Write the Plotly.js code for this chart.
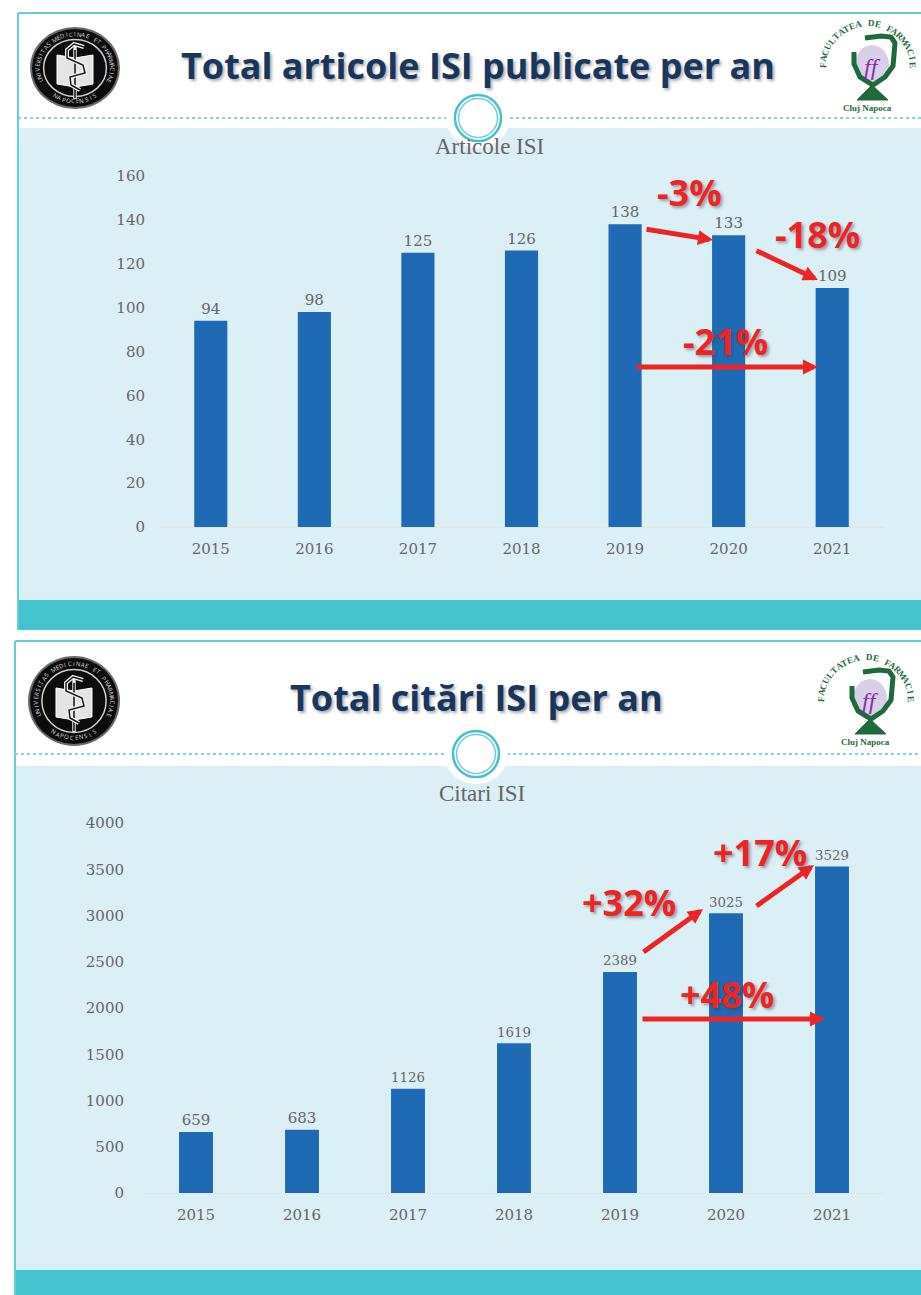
<!DOCTYPE html>
<html>
<head>
<meta charset="utf-8">
<script src="https://cdn.plot.ly/plotly-3.0.1.min.js"></script>
<style>html,body{margin:0;padding:0;background:#fff;overflow:hidden}#c{width:921px;height:1295px}</style>
</head>
<body>
<div id="c"></div>
<script>
const years = ['2015','2016','2017','2018','2019','2020','2021'];
const articole = [94,98,125,126,138,133,109];
const citari = [659,683,1126,1619,2389,3025,3529];
const ticksArticole = [0,20,40,60,80,100,120,140,160];
const ticksCitari = [0,500,1000,1500,2000,2500,3000,3500,4000];
const titleTop = 'Total articole ISI publicate per an';
const titleBottom = 'Total citări ISI per an';
const seriesTop = 'Articole ISI';
const seriesBottom = 'Citari ISI';
const sealText = 'UNIVERSITAS MEDICINAE ET PHARMACIAE';
const sealLower = 'NAPOCENSIS';
const facultyText = 'FACULTATEA DE FARMACIE';
const W = 921, H = 1295;
const fx = x => x / W, fy = y => 1 - y / H;
const TEAL = '#45c3cf', BLUE = '#dbeff7', BAR = '#1f6ab5', RED = '#ee2424', NAVY = '#17375e', GREY = '#666666', GREEN = '#1d6b3a';
const SERIF = '"DejaVu Serif", serif', LIB = '"Liberation Serif", serif', SANS = '"Open Sans", sans-serif';
const shapes = [], annotations = [];

function rect(x0, y0, x1, y1, fill) {
  shapes.push({type:'rect', xref:'paper', yref:'paper', x0:fx(x0), x1:fx(x1), y0:fy(y0), y1:fy(y1), fillcolor:fill, line:{width:0}, layer:'below'});
}
function circle(cx, cy, rx, ry, fill, lineColor, lineWidth) {
  shapes.push({type:'circle', xref:'paper', yref:'paper', x0:fx(cx-rx), x1:fx(cx+rx), y0:fy(cy-ry), y1:fy(cy+ry), fillcolor:fill,
    line:{color:lineColor||fill, width:lineWidth||0}, layer:'below'});
}
function path(pts, fill, lineColor, lineWidth, closed) {
  const d = pts.map((p,i)=>(i?'L':'M')+fx(p[0]).toFixed(5)+','+fy(p[1]).toFixed(5)).join(' ')+(closed?' Z':'');
  shapes.push({type:'path', xref:'paper', yref:'paper', path:d, fillcolor:fill||'rgba(0,0,0,0)', line:{color:lineColor||'rgba(0,0,0,0)', width:lineWidth||0}, layer:'below'});
}
function text(t, x, y, size, color, family, opts) {
  annotations.push(Object.assign({text:t, xref:'paper', yref:'paper', x:fx(x), y:fy(y), xanchor:'center', yanchor:'middle', showarrow:false,
    font:Object.assign({size:size, color:color, family:family}, (opts&&opts.font)||{})}, opts&&opts.extra||{}));
}
function arrow(x0, y0, x1, y1) {
  annotations.push({text:'', xref:'paper', yref:'paper', axref:'paper', ayref:'paper', x:fx(x1), y:fy(y1), ax:fx(x0), ay:fy(y0),
    showarrow:true, arrowhead:2, arrowsize:0.6, arrowwidth:5, arrowcolor:RED, standoff:0, startstandoff:0});
}
function pct(t, x, y) {
  text(t, x, y, 36, RED, SANS, {font:{weight:700, shadow:'2px 2px 3px rgba(60,60,60,0.45)'}});
}
function arcLetters(str, cx, cy, rx, ry, startDeg, endDeg, size, color, family, bottom, weight) {
  const chars = str.split('');
  chars.forEach((ch,i) => {
    if (ch === ' ') return;
    const deg = startDeg + (endDeg-startDeg)*i/(chars.length-1);
    const a = deg*Math.PI/180;
    text(ch, cx+rx*Math.sin(a), cy-ry*Math.cos(a), size, color, family, {font:{weight:weight||400}, extra:{textangle: bottom ? deg+180 : deg}});
  });
}
function seal(cx, cy, rx, ry) {
  circle(cx, cy, rx+2, ry+2, '#6a6a6a');
  circle(cx, cy, rx, ry, '#0c0c0c');
  circle(cx, cy, rx*0.73, ry*0.73, '#0c0c0c', '#cfcfcf', 1.5);
  path([[cx-18,cy-13],[cx-18,cy+16],[cx,cy+19],[cx+18,cy+16],[cx+18,cy-13],[cx,cy-10]], '#e4e4e4', '#ffffff', 1, true);
  path([[cx,cy-22],[cx,cy+31]], null, '#e8e8e8', 3.5);
  path([[cx,cy-18],[cx,cy+30]], null, '#111111', 1.5);
  const snake = [[9,-21],[-1,-24],[-8,-18],[-8,-10],[8,-3],[10,5],[-5,9],[-4,17],[5,22]].map(p=>[cx+p[0],cy+p[1]]);
  path(snake, null, '#f2f2f2', 4);
  path(snake, null, '#1a1a1a', 1.5);
  arcLetters(sealText, cx, cy, rx*0.86, ry*0.86, -112, 112, 6, '#dcdcdc', SANS, false);
  arcLetters(sealLower, cx, cy, rx*0.86, ry*0.86, 212, 148, 6, '#dcdcdc', SANS, true);
}
function facultyLogo(cx, cy) {
  arcLetters(facultyText, cx-3, cy+7, 45, 45, -86, 86, 9, GREEN, LIB, false, 700);
  circle(cx+1, cy+4, 17, 20, '#d9cfea');
  const cup = [[-17,-9],[-17,3],[-11,16],[2,24],[14,16],[22,5],[24,-18],[20,-24],[10,-25],[-6,-23]].map(p=>[cx+p[0],cy+p[1]]);
  path(cup, null, GREEN, 5);
  path([[cx+1,cy+24],[cx-14,cy+39],[cx+17,cy+39]], GREEN, GREEN, 1, true);
  text('ff', cx+1, cy+6, 24, '#8a2fa8', LIB, {font:{style:'italic'}});
  text('Cluj Napoca', cx-4, cy+47, 9, GREEN, LIB, {font:{weight:700}});
}
function panel(left, top, band0, band1, line, blue, ringX) {
  rect(left, top, W, band1, '#ffffff');
  rect(left, blue, W, band0, BLUE);
  rect(left, band0, W, band1, TEAL);
  rect(left, top-1, W, top+1, '#63d0d8');
  rect(left-1, top, left+1, band1, '#63d0d8');
  shapes.push({type:'line', xref:'paper', yref:'paper', x0:fx(left), x1:fx(W), y0:fy(line), y1:fy(line), line:{color:'#7fd6de', width:2, dash:'dot'}, layer:'below'});
  circle(ringX, line, 32, 30, '#ffffff');
  circle(ringX, line, 23, 23, '#ffffff', '#45c0cc', 2.5);
  circle(ringX, line, 19.5, 19.5, '#ffffff', '#6ecdd6', 1.5);
}

panel(18, 13, 600, 630, 118, 128, 478);
panel(15, 641, 1270, 1295, 754, 766, 476);
seal(75, 68, 43, 39);
seal(74, 701, 44, 43);
facultyLogo(871, 61);
facultyLogo(869, 695);

const titleFont = {weight:700, shadow:'2px 2px 3px rgba(40,40,60,0.4)'};
text(titleTop, 478, 65, 36, NAVY, SANS, {font:titleFont});
text(titleBottom, 476, 697, 36, NAVY, SANS, {font:titleFont});
text(seriesTop, 489, 147, 23, GREY, LIB);
text(seriesBottom, 482, 793, 23, GREY, LIB);

arrow(645,229,713,240); arrow(755,250,818,280); arrow(635,367,818,367);
arrow(642,953,703,909); arrow(755,907,814,865); arrow(641,1019,825,1019);
pct('-3%', 689, 192); pct('-18%', 817, 234); pct('-21%', 725, 341);
pct('+32%', 629, 902); pct('+17%', 760, 852); pct('+48%', 727, 994);

function barTrace(values, xa, ya) {
  return {type:'bar', x:years, y:values, xaxis:xa, yaxis:ya, width:0.32, marker:{color:BAR, line:{width:0}},
    text:values.map(String), textposition:'outside', cliponaxis:false,
    textfont:{family:SERIF, size:15, color:GREY}, hoverinfo:'skip', showlegend:false};
}
function xAxis(x0, x1, anchor) {
  return {domain:[fx(x0), fx(x1)], anchor:anchor, type:'category', range:[-0.5,6.5], showgrid:false, zeroline:false,
    showline:true, linecolor:'#dfe7e4', linewidth:1, ticks:'', tickfont:{family:SERIF, size:15, color:GREY}, ticklabelstandoff:8};
}
function yAxis(yTop, yBot, max, vals, anchor, standoff) {
  return {domain:[fy(yBot), fy(yTop)], anchor:anchor, range:[0,max], tickmode:'array', tickvals:vals, ticktext:vals.map(String), showgrid:false,
    zeroline:false, showline:false, ticks:'', tickfont:{family:SERIF, size:15, color:GREY}, ticklabelstandoff:standoff};
}
const layout = {
  width:W, height:H, margin:{l:0,r:0,t:0,b:0}, paper_bgcolor:'#ffffff', plot_bgcolor:'rgba(0,0,0,0)', showlegend:false, bargap:0.68,
  xaxis:xAxis(159, 884, 'y'), yaxis:yAxis(176, 527, 160, ticksArticole, 'x', 13),
  xaxis2:xAxis(143, 885, 'y2'), yaxis2:yAxis(823, 1193, 4000, ticksCitari, 'x2', 18),
  shapes:shapes, annotations:annotations
};
Plotly.newPlot('c', [barTrace(articole,'x','y'), barTrace(citari,'x2','y2')], layout, {staticPlot:true, displayModeBar:false});
</script>
</body>
</html>
